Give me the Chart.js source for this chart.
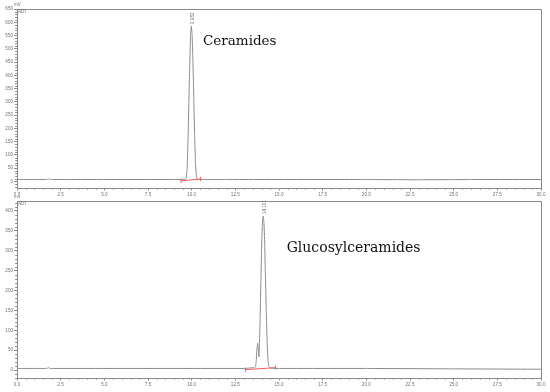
<!DOCTYPE html>
<html><head><meta charset="utf-8">
<script src="https://cdn.jsdelivr.net/npm/chart.js@4/dist/chart.umd.min.js"></script>
<style>
html,body{margin:0;padding:0;background:#fff;width:550px;height:392px;overflow:hidden;}
.w{position:absolute;left:0;width:550px;height:196px;}
</style></head><body>
<div class="w" style="top:0"><canvas id="c1" width="550" height="196"></canvas></div>
<div class="w" style="top:196px"><canvas id="c2" width="550" height="196"></canvas></div>
<script>
// ---- Data: Ceramides chromatogram (time in min, signal in mV)
const ceramideTimes  = [0, 1.7, 1.8, 1.9, 9.4, 9.64, 9.69, 9.74, 9.79, 9.84, 9.89, 9.935, 9.98, 10.025, 10.07, 10.12, 10.17, 10.22, 10.27, 10.32, 10.37, 12, 20, 23, 26, 30];
const ceramideSignal = [7, 7, 9, 7, 7, 7, 12, 45, 150, 300, 440, 550, 586, 555, 460, 320, 170, 65, 20, 9, 7, 7, 7, 6, 7, 7];
const ceramideIntegTimes  = [9.39, 10.51];
const ceramideIntegValues = [2, 9];
const ceramidePeak = {label: '9.982', time: 9.98, value: 586};

// ---- Data: Glucosylceramides chromatogram
const glucoTimes  = [0, 1.7, 1.8, 1.9, 13.1, 13.3, 13.6, 13.66, 13.70, 13.74, 13.78, 13.82, 13.85, 13.88, 13.92, 13.96, 14.00, 14.04, 14.08, 14.10, 14.14, 14.18, 14.22, 14.27, 14.32, 14.37, 14.42, 14.48, 14.8, 20, 25, 30];
const glucoSignal = [4, 4, 6, 4, 4, 5, 6, 8, 25, 55, 68, 50, 33, 60, 130, 220, 300, 360, 385, 387, 370, 320, 240, 150, 70, 25, 9, 5, 4, 4, 3, 2];
const glucoIntegTimes  = [13.09, 14.81];
const glucoIntegValues = [1, 6];
const glucoPeak = {label: '14.101', time: 14.10, value: 387};

// ---- Tick labels
const xTicks = [0, 2.5, 5, 7.5, 10, 12.5, 15, 17.5, 20, 22.5, 25, 27.5, 30];
const ceramideYTicks = [0, 50, 100, 150, 200, 250, 300, 350, 400, 450, 500, 550, 600, 650];
const glucoYTicks = [0, 50, 100, 150, 200, 250, 300, 350, 400];

const GRAY = '#8a8a8a';
const TXT = '#707070';
const RED = '#ff5a5a';
const tickFont = {family: 'Liberation Sans', size: 4.6};

function pts(t, v){ return t.map((x,i)=>({x:x, y:v[i]})); }

function makeChart(id, cfg){
  const overlay = {
    id: 'overlay',
    afterDraw(chart){
      const ctx = chart.ctx, ca = chart.chartArea, xs = chart.scales.x, ys = chart.scales.y;
      ctx.save();
      // frame top/right
      ctx.strokeStyle = GRAY; ctx.lineWidth = 1;
      ctx.beginPath();
      ctx.moveTo(ca.left, ca.top+0.5); ctx.lineTo(ca.right+0.5, ca.top+0.5);
      ctx.lineTo(ca.right+0.5, ca.bottom);
      ctx.stroke();
      // minor ticks
      ctx.beginPath();
      for(let v=Math.ceil(ys.min/10)*10; v<=ys.max; v+=10){
        if(v%50===0) continue;
        const y = Math.round(ys.getPixelForValue(v))+0.5;
        ctx.moveTo(ca.left-1.8, y); ctx.lineTo(ca.left, y);
      }
      for(let t=0; t<=30; t+=0.5){
        if(Math.abs(t/2.5-Math.round(t/2.5))<1e-6) continue;
        const x = Math.round(xs.getPixelForValue(t))+0.5;
        ctx.moveTo(x, ca.bottom); ctx.lineTo(x, ca.bottom+1.6);
      }
      ctx.stroke();
      // unit labels
      ctx.fillStyle = TXT;
      ctx.font = '4.6px "Liberation Sans"';
      ctx.textBaseline = 'middle';
      ctx.textAlign = 'left';
      ctx.fillText('mV', ca.left-3, ca.top-4);
      ctx.fillText('ADI', ca.left+1, ca.top+3);
      // peak retention-time label (rotated)
      const px = xs.getPixelForValue(cfg.peak.time), py = ys.getPixelForValue(cfg.peak.value);
      ctx.save();
      ctx.translate(px+1.5, py-2);
      ctx.rotate(-Math.PI/2);
      ctx.textAlign = 'left'; ctx.textBaseline = 'middle';
      ctx.font = '4.6px "Liberation Sans"';
      ctx.fillText(cfg.peak.label, 0, 0);
      ctx.restore();
      // compound name
      ctx.fillStyle = '#111';
      ctx.font = cfg.nameSize + 'px "DejaVu Serif"';
      ctx.textAlign = 'left'; ctx.textBaseline = 'alphabetic';
      ctx.fillText(cfg.name, xs.getPixelForValue(cfg.nameAt[0]), ys.getPixelForValue(cfg.nameAt[1]));
      ctx.restore();
    }
  };
  return new Chart(document.getElementById(id), {
    type: 'line',
    data: {datasets: [
      {data: pts(cfg.t, cfg.v), borderColor: GRAY, borderWidth: 1, pointRadius: 0, tension: 0.001, fill: false},
      {data: pts(cfg.it, cfg.iv), borderColor: RED, borderWidth: 1, pointRadius: 2.2, pointStyle: 'line', rotation: 90, pointBorderColor: RED, pointBorderWidth: 1, tension: 0, fill: false}
    ]},
    options: {
      responsive: false, devicePixelRatio: 1, animation: false,
      layout: {padding: {left: 0, top: cfg.padTop, right: 9, bottom: 0}},
      plugins: {legend: {display: false}, tooltip: {enabled: false}},
      scales: {
        x: {type: 'linear', min: 0, max: 30,
          afterBuildTicks: s => { s.ticks = xTicks.map(v=>({value:v})); },
          afterFit: s => { s.height = cfg.xH; },
          ticks: {callback: v => v.toFixed(1), font: tickFont, color: TXT, padding: 1, maxRotation: 0, autoSkip: false},
          grid: {drawOnChartArea: false, drawTicks: true, tickLength: 2.5, color: GRAY},
          border: {display: true, color: GRAY}
        },
        y: {type: 'linear', min: cfg.ymin, max: cfg.ymax,
          afterBuildTicks: s => { s.ticks = cfg.yt.map(v=>({value:v})); },
          afterFit: s => { s.width = 17; },
          ticks: {font: tickFont, color: TXT, padding: 1, autoSkip: false},
          grid: {drawOnChartArea: false, drawTicks: true, tickLength: 3, color: GRAY},
          border: {display: true, color: GRAY}
        }
      }
    },
    plugins: [overlay]
  });
}

makeChart('c1', {t: ceramideTimes, v: ceramideSignal, it: ceramideIntegTimes, iv: ceramideIntegValues,
  yt: ceramideYTicks, ymin: -25, ymax: 650, padTop: 9, xH: 8, peak: ceramidePeak,
  name: 'Ceramides', nameAt: [10.65, 514], nameSize: 13.5});
makeChart('c2', {t: glucoTimes, v: glucoSignal, it: glucoIntegTimes, iv: glucoIntegValues,
  yt: glucoYTicks, ymin: -20, ymax: 425, padTop: 4, xH: 14, peak: glucoPeak,
  name: 'Glucosylceramides', nameAt: [15.44, 296], nameSize: 14});
</script>
</body></html>
